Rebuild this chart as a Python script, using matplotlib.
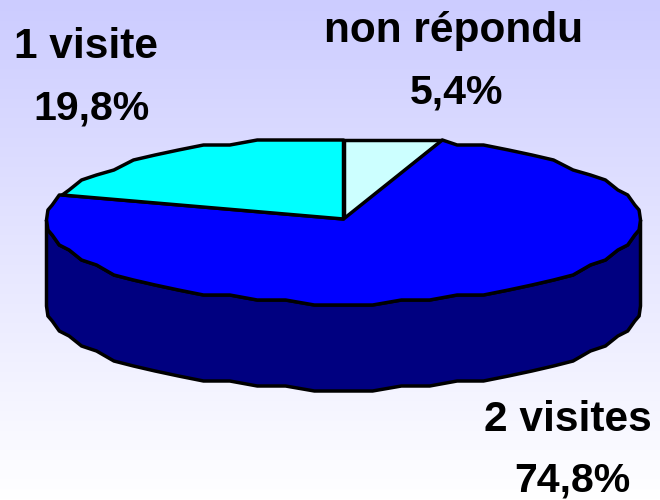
import numpy as np
import matplotlib
matplotlib.use("Agg")
import matplotlib.pyplot as plt
from matplotlib.patches import Polygon

# data
labels = ["non répondu", "2 visites", "1 visite"]
values = [5.4, 74.8, 19.8]
value_labels = ["5,4%", "74,8%", "19,8%"]
top_colors = ["#ccffff", "#0000ff", "#00ffff"]
side_color = "#000080"

# geometry of the disc, in pixels
cx, cy = 343.5, 220.5
rx, ry = 297, 83
depth = 86
step = 2 * np.pi / 64   # coarse outline like the original
snap = 5


def ellipse(a, dy=0):
    # a is clockwise from 12 o'clock, y snapped to get the rough steps
    y = cy - ry * np.cos(a)
    y = np.round(y / snap) * snap
    return np.column_stack([cx + rx * np.sin(a), y + dy])


def arc(a0, a1):
    inner = np.arange(np.ceil(a0 / step), np.floor(a1 / step) + 1) * step
    return np.unique(np.concatenate([[a0], inner, [a1]]))


fig = plt.figure(figsize=(6.6, 5), dpi=100)
ax = fig.add_axes([0, 0, 1, 1])
ax.set_xlim(0, 660)
ax.set_ylim(500, 0)
ax.axis("off")

# background gradient
grad = np.linspace(0, 1, 256).reshape(-1, 1)
cmap = matplotlib.colors.LinearSegmentedColormap.from_list("bg", ["#ccccff", "#ffffff"])
ax.imshow(grad, extent=[0, 660, 500, 0], cmap=cmap, aspect="auto", zorder=0)

# side wall
front = arc(np.pi / 2, 3 * np.pi / 2)
wall = np.vstack([ellipse(front), ellipse(front[::-1], depth)])
ax.add_patch(Polygon(wall, closed=True, fc=side_color, ec="black", lw=2.5, zorder=1))

# top slices
fractions = np.cumsum([0] + values) / sum(values) * 2 * np.pi
for i in range(len(values)):
    pts = np.vstack([[cx, cy - 1.5], ellipse(arc(fractions[i], fractions[i + 1]))])
    ax.add_patch(Polygon(pts, closed=True, fc=top_colors[i], ec="black", lw=2.5,
                         joinstyle="round", zorder=2))

# labels
font = dict(family="Liberation Sans", fontweight="bold", color="black",
            ha="center", va="center", zorder=3)
ax.text(454, 31, labels[0], fontsize=30.5, **font)
ax.text(457, 92, value_labels[0], fontsize=29.5, **font)
ax.text(86, 47, labels[2], fontsize=30.5, **font)
ax.text(91, 109, value_labels[2], fontsize=29.5, **font)
ax.text(568, 420, labels[1], fontsize=30.5, **font)
ax.text(572, 480, value_labels[1], fontsize=29.5, **font)

fig.savefig("out.png", dpi=100)
